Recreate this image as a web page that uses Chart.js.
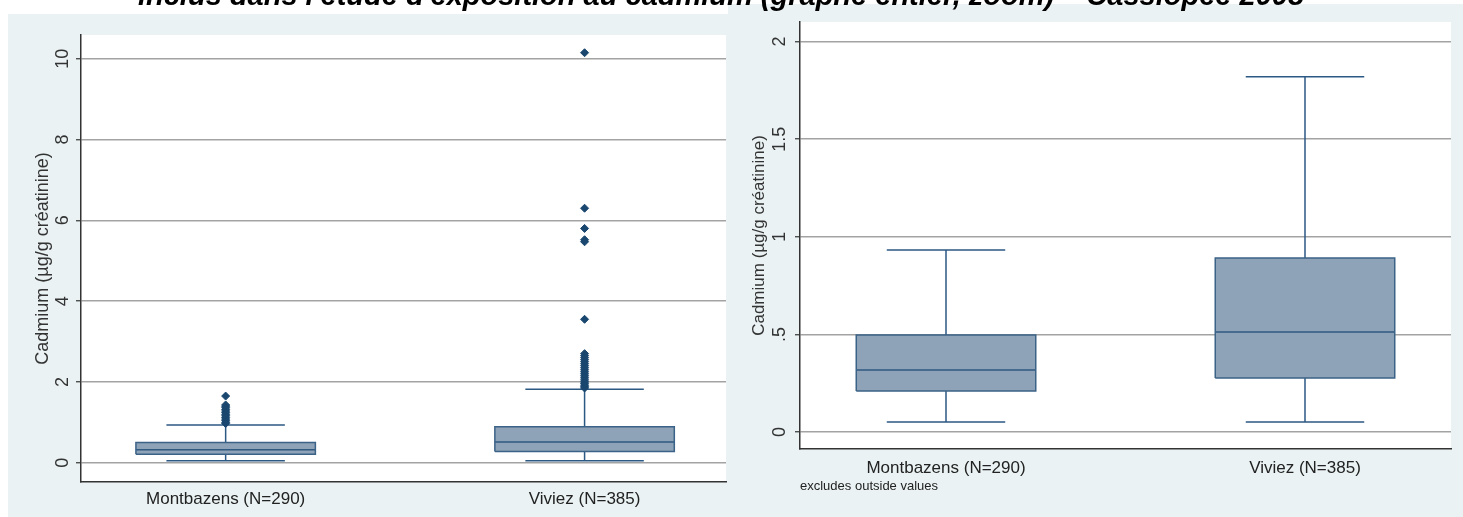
<!DOCTYPE html>
<html lang="fr">
<head>
<meta charset="utf-8">
<title>Cadmium urinaire - Montbazens / Viviez</title>
<script src="https://cdn.jsdelivr.net/npm/chart.js@4.4.1/dist/chart.umd.min.js"></script>
<style>
  body { margin: 0; width: 1463px; height: 517px; background: #fff; position: relative; overflow: hidden; font-family: "Liberation Sans", Arial, sans-serif; }
  #titre { position: absolute; left: 0; top: -19px; width: 1442px; text-align: center; font: italic bold 29px "Liberation Sans", Arial, sans-serif; line-height: 29px; color: #000; white-space: nowrap; z-index: 3; }
  #gauche { position: absolute; left: 8px; top: 14px; width: 723px; height: 503px; background: #eaf2f3; }
  #droite { position: absolute; left: 728px; top: 4px; width: 735px; height: 513px; background: #eaf2f3; z-index: 2; }
</style>
</head>
<body>
<div id="titre">inclus dans l'étude d'exposition au cadmium (graphe entier, zoom) – Cassiopée 2008</div>
<div id="gauche"><canvas id="graphe-entier"></canvas></div>
<div id="droite"><canvas id="graphe-zoom"></canvas></div>

<script>
// groupes et statistiques des boîtes (µg/g créatinine)
const groupes = ["Montbazens (N=290)", "Viviez (N=385)"];
const positions = [0, 1];
const q1 = [0.21, 0.277];
const mediane = [0.318, 0.512];
const q3 = [0.497, 0.891];
const moustacheBas = [0.051, 0.051];
const moustacheHaut = [0.932, 1.819];

// valeurs extrêmes (graphe entier seulement)
const atypiquesMontbazens = [1.65, 1.43, 1.40, 1.36, 1.32, 1.28, 1.24, 1.20, 1.16, 1.12, 1.08, 1.04, 1.00, 0.97];
const atypiquesViviez = [10.15, 6.30, 5.80, 5.52, 5.47, 3.55, 2.70, 2.65, 2.60, 2.55, 2.50, 2.45, 2.40, 2.35, 2.30,
  2.25, 2.20, 2.15, 2.10, 2.05, 2.00, 1.96, 1.92, 1.88, 1.85];

// graduations
const ticksEntier = [0, 2, 4, 6, 8, 10];
const labelsEntier = ["0", "2", "4", "6", "8", "10"];
const ticksZoom = [0, 0.5, 1, 1.5, 2];
const labelsZoom = ["0", ".5", "1", "1.5", "2"];

const NAVY = "#1a476f";
const REMPLISSAGE = "#8ea3b7";
const DEMI_BOITE = 0.25;
const DEMI_CHAPEAU = 0.165;

function construireDatasets(atypiques) {
  const ds = [];
  positions.forEach((c, i) => {
    // remplissage de la boîte
    ds.push({
      type: "line",
      data: [{ x: c - DEMI_BOITE, y: q3[i] }, { x: c + DEMI_BOITE, y: q3[i] }],
      borderWidth: 0,
      pointRadius: 0,
      fill: { value: q1[i] },
      backgroundColor: REMPLISSAGE,
      order: 3,
    });
    // contour
    ds.push({
      type: "line",
      data: [
        { x: c - DEMI_BOITE, y: q1[i] },
        { x: c + DEMI_BOITE, y: q1[i] },
        { x: c + DEMI_BOITE, y: q3[i] },
        { x: c - DEMI_BOITE, y: q3[i] },
        { x: c - DEMI_BOITE, y: q1[i] },
      ],
      borderColor: "#3b6287",
      borderWidth: 1.5,
      pointRadius: 0,
      fill: false,
      order: 1,
    });
    // médiane
    ds.push({
      type: "line",
      data: [{ x: c - DEMI_BOITE, y: mediane[i] }, { x: c + DEMI_BOITE, y: mediane[i] }],
      borderColor: "#2f5980",
      borderWidth: 1.5,
      pointRadius: 0,
      fill: false,
      order: 1,
    });
    // moustaches
    ds.push({
      type: "line",
      data: [
        { x: c, y: q3[i] },
        { x: c, y: moustacheHaut[i] },
        { x: c - DEMI_CHAPEAU, y: moustacheHaut[i] },
        { x: c + DEMI_CHAPEAU, y: moustacheHaut[i] },
        { x: c, y: null },
        { x: c, y: q1[i] },
        { x: c, y: moustacheBas[i] },
        { x: c - DEMI_CHAPEAU, y: moustacheBas[i] },
        { x: c + DEMI_CHAPEAU, y: moustacheBas[i] },
      ],
      borderColor: "#2c5884",
      borderWidth: 1.5,
      pointRadius: 0,
      spanGaps: false,
      fill: false,
      order: 2,
    });
  });
  if (atypiques) {
    atypiques.forEach((valeurs, i) => {
      ds.push({
        type: "scatter",
        data: valeurs.map((v) => ({ x: positions[i], y: v })),
        pointStyle: "rectRot",
        pointRadius: 4,
        backgroundColor: NAVY,
        borderColor: NAVY,
        borderWidth: 1,
        order: 0,
      });
    });
  }
  return ds;
}

// fond blanc de la zone de tracé
const fondBlanc = {
  id: "fondBlanc",
  beforeDraw(chart) {
    const a = chart.chartArea;
    chart.ctx.save();
    chart.ctx.fillStyle = "#fff";
    chart.ctx.fillRect(a.left, a.top, a.right - a.left, a.bottom - a.top);
    chart.ctx.restore();
  },
};

// étiquettes de l'axe y tournées comme dans Stata
const etiquettesVerticales = {
  id: "etiquettesVerticales",
  afterDraw(chart, args, opts) {
    const y = chart.scales.y;
    const ctx = chart.ctx;
    ctx.save();
    ctx.fillStyle = "#333";
    ctx.font = opts.police;
    ctx.textAlign = "center";
    ctx.textBaseline = "alphabetic";
    opts.valeurs.forEach((v, i) => {
      ctx.save();
      ctx.translate(y.right - opts.ecart, y.getPixelForValue(v));
      ctx.rotate(-Math.PI / 2);
      ctx.fillText(opts.textes[i], 0, 0);
      ctx.restore();
    });
    ctx.restore();
  },
};

function creerGraphe(id, cfg) {
  return new Chart(document.getElementById(id), {
    data: { datasets: construireDatasets(cfg.atypiques) },
    plugins: [fondBlanc, etiquettesVerticales],
    options: {
      responsive: true,
      maintainAspectRatio: false,
      animation: false,
      events: [],
      layout: { padding: cfg.padding },
      plugins: {
        legend: { display: false },
        tooltip: { enabled: false },
        etiquettesVerticales: { valeurs: cfg.ticks, textes: cfg.labels, ecart: cfg.ecart, police: '18px "Liberation Sans"' },
      },
      scales: {
        x: {
          type: "linear",
          min: cfg.xMin,
          max: cfg.xMax,
          afterBuildTicks: (s) => { s.ticks = positions.map((v) => ({ value: v })); },
          afterFit: (s) => { s.height = cfg.hauteurX; },
          grid: { display: false, drawTicks: false },
          border: { display: true, color: "#333", width: 1.5 },
          ticks: {
            autoSkip: false,
            maxRotation: 0,
            padding: cfg.paddingX,
            color: "#222",
            font: { family: "Liberation Sans", size: 17 },
            callback: (v) => groupes[positions.indexOf(v)],
          },
          title: cfg.note
            ? { display: true, text: cfg.note, align: "start", color: "#222", font: { family: "Liberation Sans", size: 13 }, padding: { top: 0, bottom: cfg.paddingNote } }
            : { display: false },
        },
        y: {
          type: "linear",
          min: cfg.yMin,
          max: cfg.yMax,
          afterBuildTicks: (s) => { s.ticks = cfg.ticks.map((v) => ({ value: v })); },
          afterFit: (s) => { s.width = cfg.largeurY; },
          grid: { color: "#a3a3a3", lineWidth: 1.5, drawTicks: true, tickLength: 5, tickColor: "#333", tickWidth: 1.2 },
          border: { display: true, color: "#333", width: 1.5 },
          ticks: { display: false },
          title: {
            display: true,
            text: "Cadmium (µg/g créatinine)",
            color: "#333",
            font: { family: "Liberation Sans", size: cfg.tailleTitreY },
            padding: { top: cfg.paddingTitreY, bottom: 0 },
          },
        },
      },
    },
  });
}

creerGraphe("graphe-entier", {
  atypiques: [atypiquesMontbazens, atypiquesViviez],
  padding: { top: 21, right: 0, left: 0, bottom: 0 },
  xMin: -0.403, xMax: 1.394,
  yMin: -0.478, yMax: 10.589,
  ticks: ticksEntier, labels: labelsEntier,
  largeurY: 73, hauteurX: 35, paddingX: 7, ecart: 13,
  tailleTitreY: 18, paddingTitreY: 24,
});

creerGraphe("graphe-zoom", {
  atypiques: null,
  note: "excludes outside values",
  padding: { top: 18, right: 12, left: 0, bottom: 0 },
  xMin: -0.4067, xMax: 1.4067,
  yMin: -0.087, yMax: 2.1,
  ticks: ticksZoom, labels: labelsZoom,
  largeurY: 72, hauteurX: 68, paddingX: 9, paddingNote: 23, ecart: 15,
  tailleTitreY: 17, paddingTitreY: 21,
});
</script>
</body>
</html>
